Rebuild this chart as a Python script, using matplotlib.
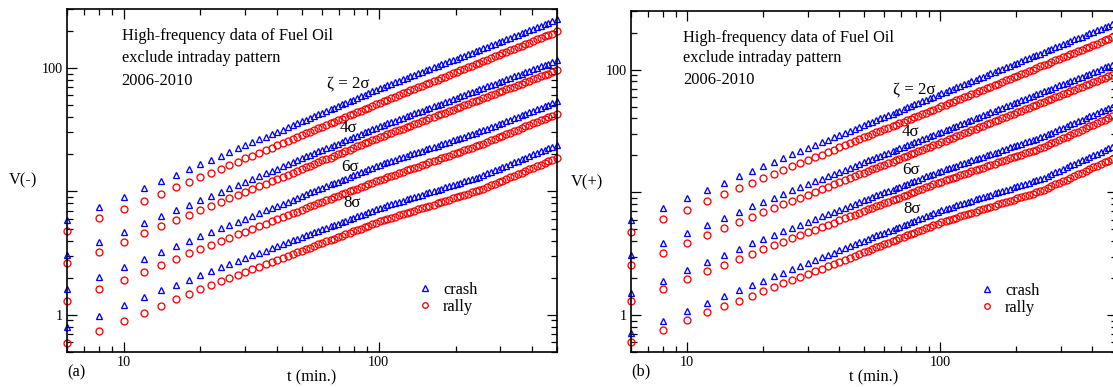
import numpy as np
import matplotlib
matplotlib.use('Agg')
import matplotlib.pyplot as plt
from matplotlib.ticker import NullFormatter, LogLocator

plt.rcParams['font.family'] = 'serif'
plt.rcParams['font.serif'] = ['Liberation Serif', 'DejaVu Serif']

# sampling times (min.)
t_min = [6, 8, 10, 12, 14, 16, 18, 20, 22, 24, 26, 28, 30, 32, 34, 36, 38, 40, 42, 44, 46, 48, 50, 52, 54,
         56, 58, 60, 62, 65, 67, 69, 72, 74, 77, 79, 82, 85, 88, 91, 94, 98,
         101, 105, 108, 112, 116, 120, 124, 129, 133, 138, 143, 148, 153, 158, 164, 170, 176, 182, 188,
         195, 202, 209, 216, 224, 232, 240, 248,
         257, 266, 275, 285, 295, 305, 316, 327, 339, 351, 363, 376, 389, 403, 417, 432, 447, 462, 479,
         500]

# panel (a): V(-)
a_crash_2 = [5.89, 7.43, 9.04, 10.6, 12.1, 13.6, 15.1, 16.6,
             18.0, 19.4, 20.9, 22.3, 23.6, 25.0, 26.4, 27.7, 29.1, 30.4, 31.7, 33.0, 34.4, 35.7, 37.0, 38.2, 39.5,
             41.0, 42.2, 43.5, 44.9, 46.2, 47.6, 49.1, 50.6, 52.2, 53.8, 55.4, 57.1, 58.9, 60.7, 62.5, 64.5, 66.4,
             68.4, 70.3, 72.3, 74.4, 76.4, 78.6, 80.8, 83.1, 85.4, 87.8, 90.3, 92.9, 95.4, 98.2, 101, 104, 107,
             110, 113, 116, 119, 123, 126, 130, 133, 137, 141,
             145, 149, 153, 157, 162, 166, 171, 176, 181, 186, 191, 196, 202, 208, 214, 220, 226, 232, 239,
             247]
a_rally_2 = [4.80, 6.05, 7.20, 8.41, 9.60, 10.8, 11.9, 13.0,
             14.1, 15.2, 16.3, 17.4, 18.5, 19.5, 20.5, 21.6, 22.6, 23.6, 24.6, 25.6, 26.6, 27.6, 28.6, 29.6, 30.5,
             31.6, 32.6, 33.5, 34.5, 35.6, 36.7, 37.8, 38.9, 40.1, 41.3, 42.5, 43.8, 45.1, 46.5, 47.8, 49.3, 50.8,
             52.3, 53.8, 55.4, 57.0, 58.6, 60.3, 62.1, 63.9, 65.8, 67.7, 69.7, 71.7, 73.8, 75.9, 78.2, 80.4, 82.8,
             85.2, 87.7, 90.2, 92.9, 95.6, 98.4, 101, 104, 107, 110,
             114, 117, 120, 124, 127, 131, 135, 139, 143, 147, 151, 156, 160, 165, 170, 175, 180, 185, 190,
             198]
a_crash_4 = [3.06, 3.92, 4.71, 5.50, 6.27, 7.03, 7.77, 8.50,
             9.22, 9.92, 10.6, 11.3, 12.0, 12.7, 13.3, 14.0, 14.7, 15.3, 16.0, 16.6, 17.3, 17.9, 18.5, 19.2, 19.8,
             20.5, 21.1, 21.7, 22.4, 23.0, 23.7, 24.4, 25.2, 25.9, 26.7, 27.5, 28.3, 29.1, 30.0, 30.9, 31.8, 32.8,
             33.7, 34.6, 35.6, 36.5, 37.5, 38.5, 39.5, 40.6, 41.7, 42.8, 44.0, 45.1, 46.4, 47.6, 48.9, 50.2, 51.5,
             52.9, 54.4, 55.8, 57.3, 58.9, 60.4, 62.1, 63.7, 65.4, 67.2,
             69.0, 70.9, 72.8, 74.7, 76.8, 78.8, 80.9, 83.1, 85.3, 87.6, 90.0, 92.4, 94.9, 97.4, 100, 103, 105, 108, 111,
             115]
a_rally_4 = [2.62, 3.25, 3.92, 4.57, 5.20, 5.82, 6.43, 7.02,
             7.61, 8.19, 8.76, 9.32, 9.88, 10.4, 11.0, 11.5, 12.1, 12.6, 13.1, 13.6, 14.2, 14.7, 15.2, 15.7, 16.2,
             16.8, 17.3, 17.8, 18.3, 18.8, 19.4, 20.0, 20.6, 21.2, 21.8, 22.4, 23.1, 23.8, 24.5, 25.2, 25.9, 26.7,
             27.5, 28.2, 29.0, 29.8, 30.6, 31.4, 32.3, 33.2, 34.1, 35.0, 36.0, 37.0, 38.0, 39.0, 40.1, 41.2, 42.3,
             43.5, 44.7, 45.9, 47.1, 48.4, 49.7, 51.1, 52.5, 53.9, 55.4,
             56.9, 58.5, 60.1, 61.7, 63.4, 65.1, 66.9, 68.7, 70.6, 72.5, 74.6, 76.6, 78.7, 80.8, 83.0, 85.3, 87.7, 90.1, 92.5,
             95.7]
a_crash_6 = [1.62, 2.02, 2.43, 2.83, 3.21, 3.59, 3.96, 4.32,
             4.67, 5.02, 5.36, 5.70, 6.03, 6.36, 6.69, 7.02, 7.34, 7.66, 7.97, 8.28, 8.59, 8.90, 9.21, 9.51, 9.81,
             10.1, 10.4, 10.7, 11.0, 11.4, 11.7, 12.0, 12.4, 12.7, 13.1, 13.5, 13.9, 14.3, 14.7, 15.1, 15.6, 16.0,
             16.5, 16.9, 17.3, 17.7, 18.1, 18.5, 19.0, 19.5, 19.9, 20.4, 20.9, 21.4, 21.9, 22.4, 23.0, 23.5, 24.1,
             24.7, 25.3, 25.9, 26.5, 27.2, 27.8, 28.5, 29.2, 29.9, 30.6,
             31.4, 32.3, 33.2, 34.1, 35.1, 36.1, 37.1, 38.1, 39.2, 40.3, 41.4, 42.6, 43.8, 45.0, 46.3, 47.6, 48.9, 50.3, 51.7,
             53.5]
a_rally_6 = [1.30, 1.62, 1.92, 2.24, 2.54, 2.84, 3.14, 3.43,
             3.70, 3.96, 4.22, 4.48, 4.73, 4.98, 5.23, 5.47, 5.71, 5.95, 6.18, 6.42, 6.65, 6.87, 7.10, 7.33, 7.55,
             7.80, 8.01, 8.24, 8.47, 8.70, 8.95, 9.20, 9.45, 9.71, 9.98, 10.3, 10.5, 10.8, 11.1, 11.5, 11.8, 12.1,
             12.4, 12.7, 13.1, 13.4, 13.7, 14.1, 14.4, 14.8, 15.2, 15.5, 15.9, 16.3, 16.7, 17.2, 17.6, 18.0, 18.5,
             19.0, 19.4, 19.9, 20.4, 20.9, 21.5, 22.0, 22.6, 23.1, 23.7,
             24.4, 25.1, 25.9, 26.6, 27.4, 28.2, 29.0, 29.9, 30.8, 31.7, 32.6, 33.6, 34.6, 35.6, 36.6, 37.7, 38.8, 40.0, 41.1,
             42.7]
a_crash_8 = [0.804, 0.987, 1.20, 1.40, 1.58, 1.76, 1.93, 2.10,
             2.27, 2.42, 2.58, 2.73, 2.88, 3.03, 3.17, 3.31, 3.46, 3.60, 3.73, 3.87, 4.01, 4.14, 4.27, 4.40, 4.54,
             4.68, 4.81, 4.94, 5.07, 5.21, 5.35, 5.49, 5.64, 5.79, 5.95, 6.11, 6.28, 6.45, 6.62, 6.80, 6.98, 7.17,
             7.36, 7.52, 7.69, 7.87, 8.05, 8.23, 8.42, 8.61, 8.80, 9.00, 9.21, 9.42, 9.63, 9.85, 10.1, 10.3, 10.5,
             10.8, 11.0, 11.3, 11.5, 11.8, 12.1, 12.3, 12.6, 12.9, 13.2,
             13.6, 14.0, 14.4, 14.8, 15.3, 15.7, 16.2, 16.7, 17.2, 17.7, 18.2, 18.7, 19.3, 19.9, 20.5, 21.1, 21.7, 22.3, 23.0,
             23.9]
a_rally_8 = [0.597, 0.743, 0.894, 1.04, 1.19, 1.34, 1.48, 1.62,
             1.75, 1.87, 1.99, 2.11, 2.22, 2.34, 2.45, 2.56, 2.67, 2.78, 2.89, 3.01, 3.10, 3.20, 3.31, 3.41, 3.51,
             3.62, 3.72, 3.82, 3.93, 4.04, 4.15, 4.26, 4.37, 4.49, 4.62, 4.74, 4.87, 5.00, 5.14, 5.28, 5.42, 5.57,
             5.72, 5.85, 5.98, 6.12, 6.25, 6.40, 6.54, 6.69, 6.84, 7.00, 7.15, 7.32, 7.48, 7.65, 7.83, 8.00, 8.19,
             8.37, 8.56, 8.76, 8.96, 9.16, 9.37, 9.58, 9.80, 10.0, 10.2,
             10.5, 10.9, 11.2, 11.5, 11.9, 12.2, 12.6, 13.0, 13.4, 13.8, 14.2, 14.6, 15.1, 15.5, 16.0, 16.5, 17.0, 17.5, 18.0,
             18.7]

# panel (b): V(+)
b_crash_2 = [5.93, 7.48, 8.92, 10.5, 12.0, 13.5, 14.9, 16.4,
             17.7, 19.1, 20.4, 21.7, 23.0, 24.3, 25.6, 26.8, 28.1, 29.3, 30.5, 31.7, 33.0, 34.2, 35.4, 36.5, 37.7,
             39.0, 40.2, 41.4, 42.6, 43.8, 45.1, 46.4, 47.8, 49.2, 50.7, 52.2, 53.7, 55.3, 56.9, 58.6, 60.3, 62.1,
             63.9, 65.8, 67.7, 69.7, 71.7, 73.8, 76.0, 78.2, 80.5, 82.9, 85.3, 87.8, 90.4, 93.0, 95.8, 98.6, 101,
             104, 107, 111, 114, 117, 121, 124, 128, 132, 135,
             139, 144, 148, 152, 157, 161, 166, 171, 176, 181, 186, 192, 197, 203, 209, 215, 222, 228, 235,
             243]
b_rally_2 = [4.78, 6.01, 7.24, 8.47, 9.67, 10.8, 12.0, 13.1,
             14.2, 15.3, 16.3, 17.3, 18.3, 19.3, 20.3, 21.3, 22.3, 23.3, 24.2, 25.2, 26.1, 27.0, 28.0, 28.9, 29.8,
             30.8, 31.7, 32.6, 33.5, 34.5, 35.5, 36.5, 37.6, 38.7, 39.8, 41.0, 42.1, 43.3, 44.6, 45.9, 47.2, 48.6,
             50.1, 51.5, 53.0, 54.5, 56.1, 57.7, 59.4, 61.2, 63.0, 64.8, 66.7, 68.6, 70.6, 72.7, 74.8, 77.0, 79.3,
             81.6, 84.0, 86.4, 89.0, 91.5, 94.2, 97.0, 99.8, 103, 106,
             109, 112, 115, 119, 122, 126, 129, 133, 137, 141, 145, 149, 154, 158, 163, 168, 173, 178, 183,
             190]
b_crash_4 = [3.06, 3.88, 4.69, 5.46, 6.21, 6.95, 7.67, 8.37,
             9.05, 9.71, 10.4, 11.0, 11.6, 12.3, 12.9, 13.5, 14.1, 14.7, 15.3, 15.9, 16.5, 17.0, 17.6, 18.2, 18.7,
             19.4, 19.9, 20.5, 21.1, 21.7, 22.3, 22.9, 23.6, 24.2, 24.9, 25.6, 26.4, 27.1, 27.9, 28.7, 29.5, 30.3,
             31.2, 32.1, 33.0, 33.9, 34.9, 35.9, 36.9, 37.9, 39.0, 40.1, 41.3, 42.4, 43.6, 44.9, 46.1, 47.4, 48.8,
             50.2, 51.6, 53.0, 54.5, 56.1, 57.7, 59.3, 61.0, 62.7, 64.5,
             66.3, 68.2, 70.1, 72.1, 74.2, 76.3, 78.4, 80.6, 82.9, 85.3, 87.7, 90.2, 92.7, 95.3, 98.1, 101, 104, 107, 110,
             114]
b_rally_4 = [2.55, 3.22, 3.88, 4.51, 5.13, 5.73, 6.31, 6.89,
             7.44, 7.98, 8.52, 9.05, 9.57, 10.1, 10.6, 11.1, 11.6, 12.1, 12.6, 13.1, 13.5, 14.0, 14.5, 15.0, 15.4,
             15.9, 16.4, 16.8, 17.3, 17.8, 18.3, 18.8, 19.4, 19.9, 20.5, 21.1, 21.7, 22.3, 22.9, 23.6, 24.2, 24.9,
             25.6, 26.4, 27.1, 27.9, 28.7, 29.5, 30.3, 31.2, 32.1, 33.0, 34.0, 34.9, 35.9, 36.9, 38.0, 39.1, 40.2,
             41.3, 42.5, 43.7, 45.0, 46.2, 47.6, 48.9, 50.3, 51.7, 53.2,
             54.7, 56.3, 57.9, 59.5, 61.2, 63.0, 64.8, 66.6, 68.5, 70.5, 72.5, 74.5, 76.7, 78.8, 81.1, 83.4, 85.8, 88.2, 90.7,
             94.0]
b_crash_6 = [1.52, 1.91, 2.32, 2.71, 3.09, 3.46, 3.83, 4.19,
             4.51, 4.83, 5.15, 5.46, 5.76, 6.06, 6.36, 6.65, 6.94, 7.23, 7.51, 7.79, 8.07, 8.34, 8.61, 8.88, 9.15,
             9.45, 9.71, 9.98, 10.2, 10.5, 10.8, 11.1, 11.4, 11.7, 12.1, 12.4, 12.7, 13.1, 13.5, 13.8, 14.2, 14.6,
             15.0, 15.4, 15.7, 16.1, 16.5, 16.9, 17.3, 17.7, 18.2, 18.6, 19.1, 19.5, 20.0, 20.5, 21.0, 21.5, 22.1,
             22.6, 23.2, 23.7, 24.3, 24.9, 25.5, 26.1, 26.8, 27.4, 28.1,
             28.9, 29.8, 30.7, 31.7, 32.7, 33.7, 34.7, 35.8, 36.9, 38.0, 39.2, 40.4, 41.7, 42.9, 44.3, 45.6, 47.0, 48.5, 50.0,
             51.9]
b_rally_6 = [1.30, 1.64, 1.95, 2.27, 2.57, 2.86, 3.15, 3.43,
             3.70, 3.96, 4.21, 4.46, 4.71, 4.96, 5.20, 5.44, 5.67, 5.91, 6.14, 6.36, 6.59, 6.81, 7.03, 7.25, 7.47,
             7.71, 7.92, 8.14, 8.37, 8.59, 8.83, 9.07, 9.32, 9.58, 9.84, 10.1, 10.4, 10.7, 11.0, 11.3, 11.6, 11.9,
             12.2, 12.5, 12.8, 13.1, 13.4, 13.8, 14.1, 14.5, 14.8, 15.2, 15.6, 15.9, 16.3, 16.7, 17.1, 17.5, 18.0,
             18.4, 18.9, 19.3, 19.8, 20.3, 20.8, 21.3, 21.8, 22.3, 22.9,
             23.6, 24.3, 25.1, 25.9, 26.7, 27.6, 28.5, 29.4, 30.3, 31.3, 32.3, 33.3, 34.4, 35.5, 36.6, 37.8, 39.0, 40.3, 41.5,
             43.2]
b_crash_8 = [0.720, 0.894, 1.08, 1.25, 1.42, 1.59, 1.75, 1.91,
             2.07, 2.22, 2.37, 2.52, 2.66, 2.81, 2.95, 3.09, 3.23, 3.37, 3.50, 3.64, 3.77, 3.91, 4.04, 4.17, 4.30,
             4.45, 4.57, 4.70, 4.84, 4.97, 5.12, 5.26, 5.41, 5.57, 5.73, 5.89, 6.06, 6.23, 6.41, 6.59, 6.78, 6.97,
             7.16, 7.32, 7.49, 7.66, 7.83, 8.01, 8.19, 8.38, 8.57, 8.76, 8.96, 9.17, 9.38, 9.59, 9.81, 10.0, 10.3,
             10.5, 10.7, 11.0, 11.2, 11.5, 11.7, 12.0, 12.3, 12.6, 12.8,
             13.2, 13.7, 14.1, 14.6, 15.0, 15.5, 16.0, 16.6, 17.1, 17.7, 18.2, 18.8, 19.5, 20.1, 20.7, 21.4, 22.1, 22.8, 23.6,
             24.6]
b_rally_8 = [0.607, 0.750, 0.906, 1.05, 1.18, 1.31, 1.44, 1.57,
             1.69, 1.81, 1.93, 2.05, 2.16, 2.28, 2.39, 2.50, 2.61, 2.72, 2.83, 2.94, 3.04, 3.15, 3.25, 3.35, 3.46,
             3.57, 3.67, 3.77, 3.88, 3.98, 4.10, 4.21, 4.33, 4.45, 4.57, 4.70, 4.83, 4.96, 5.10, 5.24, 5.39, 5.54,
             5.69, 5.82, 5.95, 6.08, 6.23, 6.36, 6.51, 6.66, 6.81, 6.96, 7.12, 7.28, 7.45, 7.61, 7.79, 7.96, 8.15,
             8.33, 8.52, 8.71, 8.91, 9.11, 9.32, 9.53, 9.75, 9.97, 10.2,
             10.5, 10.8, 11.2, 11.6, 11.9, 12.3, 12.7, 13.2, 13.6, 14.0, 14.5, 15.0, 15.5, 16.0, 16.5, 17.0, 17.6, 18.1, 18.7,
             19.5]

zeta_labels = ['ζ = 2σ', '4σ', '6σ', '8σ']
header = ['High-frequency data of Fuel Oil', 'exclude intraday pattern', '2006-2010']

BLUE = '#0000ff'
RED = '#ff0000'
FS = 11.8


def draw_panel(ax, crash, rally, ylab, tag, zpos, hpos, ylab_pos, leg_anchor):
    for k, (c, r) in enumerate(zip(crash, rally)):
        ax.plot(t_min, c, ls='none', marker='^', ms=5.0, mfc='none', mec=BLUE, mew=0.95,
                clip_on=False, label='crash' if k == 0 else None)
        ax.plot(t_min, r, ls='none', marker='o', ms=5.0, mfc='none', mec=RED, mew=0.95,
                clip_on=False, label='rally' if k == 0 else None)

    ax.set_xscale('log')
    ax.set_yscale('log')
    ax.set_xlim(6, 500)
    ax.set_ylim(0.5, 300)

    ax.set_xticks([10, 100])
    ax.set_xticklabels(['10', '100'])
    ax.xaxis.set_minor_locator(LogLocator(base=10, subs=np.arange(2, 10)))
    ax.xaxis.set_minor_formatter(NullFormatter())
    ax.set_yticks([1, 10, 100])
    ax.set_yticklabels(['1', '', '100'])
    ax.yaxis.set_minor_locator(LogLocator(base=10, subs=np.arange(2, 10)))
    ax.yaxis.set_minor_formatter(NullFormatter())

    ax.tick_params(which='both', direction='in', top=True, right=True, width=0.9,
                   labelsize=10.2, pad=3)
    ax.tick_params(which='major', length=7)
    ax.tick_params(which='minor', length=4)
    for s in ax.spines.values():
        s.set_linewidth(1.2)

    ax.set_xlabel('t (min.)', fontsize=FS, va='center')
    ax.xaxis.set_label_coords(0.5, -0.073)
    ax.set_ylabel(ylab, fontsize=FS, rotation=0, ha='center', va='center')
    ax.yaxis.set_label_coords(*ylab_pos)

    ax.text(0.0, -0.058, tag, transform=ax.transAxes, fontsize=FS, ha='left', va='center')

    for line, y in zip(header, hpos[1]):
        ax.text(hpos[0], y, line, transform=ax.transAxes, fontsize=FS, ha='left', va='center')
    for lab, (x, y) in zip(zeta_labels, zpos):
        ax.text(x, y, lab, transform=ax.transAxes, fontsize=12.2, ha='left', va='center')

    ax.legend(loc='center left', bbox_to_anchor=leg_anchor, frameon=False, fontsize=FS,
              handlelength=1.0, handletextpad=0.6, labelspacing=0.05, borderpad=0,
              borderaxespad=0, numpoints=1, markerscale=0.8)


fig = plt.figure(figsize=(11.13, 3.87), dpi=100)
ax_a = fig.add_axes([0.0602, 0.0904, 0.4403, 0.8863])
ax_b = fig.add_axes([0.5669, 0.0904, 0.4367, 0.8811])

draw_panel(ax_a,
           [a_crash_2, a_crash_4, a_crash_6, a_crash_8],
           [a_rally_2, a_rally_4, a_rally_6, a_rally_8],
           'V(-)', '(a)',
           [(0.531, 0.784), (0.557, 0.653), (0.559, 0.539), (0.563, 0.434)],
           (0.1116, [0.921, 0.857, 0.790]),
           (-0.0888, 0.5),
           (0.714, 0.157))
draw_panel(ax_b,
           [b_crash_2, b_crash_4, b_crash_6, b_crash_8],
           [b_rally_2, b_rally_4, b_rally_6, b_rally_8],
           'V(+)', '(b)',
           [(0.539, 0.771), (0.556, 0.645), (0.558, 0.534), (0.560, 0.419)],
           (0.108, [0.922, 0.861, 0.798]),
           (-0.0916, 0.496),
           (0.716, 0.155))

fig.savefig('out.png', dpi=100)
